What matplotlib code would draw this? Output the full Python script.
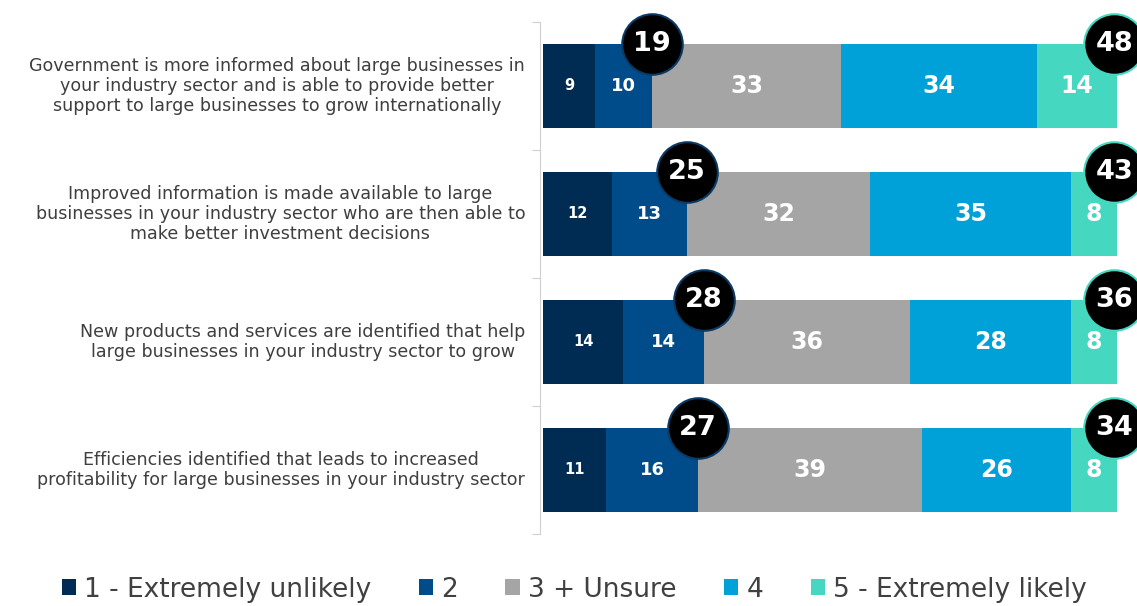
import matplotlib

matplotlib.use("Agg")
import matplotlib.pyplot as plt
import matplotlib.transforms as mtransforms
import numpy as np

categories = [
    "Government is more informed about large businesses in\nyour industry sector and is able to provide better\nsupport to large businesses to grow internationally",
    "Improved information is made available to large\nbusinesses in your industry sector who are then able to\nmake better investment decisions",
    "New products and services are identified that help\nlarge businesses in your industry sector to grow",
    "Efficiencies identified that leads to increased\nprofitability for large businesses in your industry sector",
]
series_names = ["1 - Extremely unlikely", "2", "3 + Unsure", "4", "5 - Extremely likely"]
values = np.array([
    [9, 10, 33, 34, 14],
    [12, 13, 32, 35, 8],
    [14, 14, 36, 28, 8],
    [11, 16, 39, 26, 8],
])
bottom_two = [19, 25, 28, 27]
top_two = [48, 43, 36, 34]

colors = ["#002b52", "#004c8a", "#a5a5a5", "#00a0d8", "#45d7bf"]
label_sizes = [10.5, 13, 17, 17, 17]

plt.rcParams["font.family"] = ["DejaVu Sans"]

fig = plt.figure(figsize=(11.37, 6.06), dpi=100)
ax = fig.add_axes([543 / 1137, 72 / 606, 574 / 1137, 512 / 606])

y = np.arange(len(categories))
bar_h = 0.66
left = np.zeros(len(categories))
handles = []
for j, name in enumerate(series_names):
    bars = ax.barh(y, values[:, j], left=left, height=bar_h, color=colors[j], label=name)
    handles.append(bars)
    for i in range(len(categories)):
        ax.text(left[i] + values[i, j] / 2, y[i], str(values[i, j]), ha="center", va="center",
                color="white", fontsize=label_sizes[j], fontweight="bold")
    left += values[:, j]

# summary circles
for i in range(len(categories)):
    ax.scatter(bottom_two[i], y[i] - bar_h / 2, s=1900, color="black", edgecolor="#0a3a66",
               linewidth=1.5, zorder=5, clip_on=False)
    ax.text(bottom_two[i], y[i] - bar_h / 2, str(bottom_two[i]), ha="center", va="center",
            color="white", fontsize=19.5, fontweight="bold", zorder=6)
    ax.scatter(left[i] - 0.5, y[i] - bar_h / 2, s=1900, color="black", edgecolor="#45d7bf",
               linewidth=1.5, zorder=5, clip_on=False)
    ax.text(left[i] - 0.5, y[i] - bar_h / 2, str(top_two[i]), ha="center", va="center",
            color="white", fontsize=19.5, fontweight="bold", zorder=6, clip_on=False)

# category labels, centred lines, right edge just left of the axis
trans = mtransforms.blended_transform_factory(ax.transAxes, ax.transData)
for i, cat in enumerate(categories):
    ax.text(-0.031, y[i], cat, transform=trans, ha="right", va="center",
            multialignment="center", fontsize=12.6, color="#3f3f3f", linespacing=1.12)

ax.set_xlim(0, 100)
ax.set_ylim(len(categories) - 0.5, -0.5)
ax.set_xticks([])
ax.set_yticks(np.arange(-0.5, len(categories), 1))
ax.set_yticklabels([])
ax.tick_params(axis="y", length=6, color="#d0d0d0")
for side in ["top", "right", "bottom"]:
    ax.spines[side].set_visible(False)
ax.spines["left"].set_color("#d0d0d0")
ax.spines["left"].set_position(("outward", 2))

fig.legend(handles=handles, labels=series_names, loc="center", bbox_to_anchor=(0.505, 0.027),
           ncol=5, frameon=False, fontsize=19, handlelength=0.55, handleheight=0.55,
           handletextpad=0.3, columnspacing=1.8, labelcolor="#404040")

fig.savefig("out.png", dpi=100)
plt.close(fig)
